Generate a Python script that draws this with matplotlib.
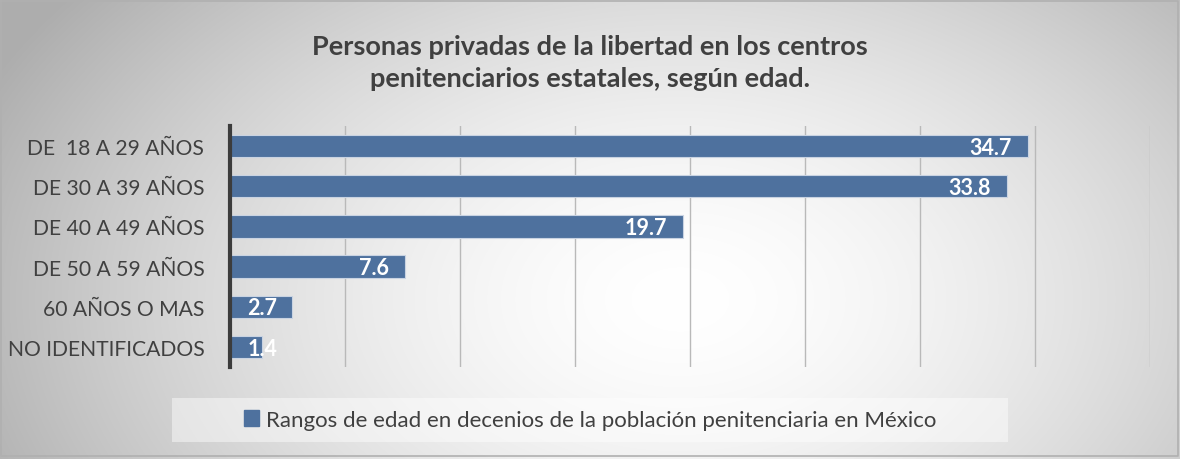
import matplotlib.pyplot as plt
import numpy as np

categories = ["DE  18 A 29 AÑOS", "DE 30 A 39 AÑOS", "DE 40 A 49 AÑOS",
              "DE 50 A 59 AÑOS", "60 AÑOS O MAS", "NO IDENTIFICADOS"]
values = [34.7, 33.8, 19.7, 7.6, 2.7, 1.4]
series_name = "Rangos de edad en decenios de la población penitenciaria en México"
title = "Personas privadas de la libertad en los centros\npenitenciarios estatales, según edad."

plt.rcParams['font.family'] = ['Lato', 'DejaVu Sans']
bar_color = "#4e719e"
text_color = "#404040"

W, H = 1180, 460
fig = plt.figure(figsize=(W / 100, H / 100), dpi=100)

# radial grey-to-white background
bg = fig.add_axes([0, 0, 1, 1], zorder=-10)
yy, xx = np.mgrid[0:H, 0:W]
r = np.sqrt(((xx - 680) / 640.0) ** 2 + ((yy - 300) / 420.0) ** 2)
shade = 1.0 - 0.24 * np.clip(r, 0, 1.2) ** 1.6
bg.imshow(np.dstack([shade] * 3), extent=[0, W, H, 0], aspect='auto')
bg.plot([1, W - 2, W - 2, 1, 1], [2, 2, H - 3, H - 3, 2], color="#b0b0b0", lw=1.2)
# legend backdrop
bg.add_patch(plt.Rectangle((172, 399), 836, 44, facecolor="white", alpha=0.45, edgecolor="none"))
bg.set_xlim(0, W)
bg.set_ylim(H, 0)
bg.axis('off')

ax = fig.add_axes([230 / W, 1 - 368 / H, 920 / W, 241 / H])
ax.patch.set_alpha(0)
y = np.arange(len(categories))
ax.barh(y, values, height=0.56, color=bar_color, edgecolor="#c9d3e2", linewidth=0.8, zorder=3)
ax.set_xlim(0, 40)
ax.set_ylim(len(categories) - 0.5, -0.5)
ax.set_xticks(np.arange(5, 45, 5))
ax.tick_params(axis='x', bottom=False, labelbottom=False)
ax.tick_params(axis='y', left=False, pad=15, labelsize=15.2, labelcolor=text_color)
ax.set_yticks(y)
ax.set_yticklabels(categories)
ax.grid(axis='x', color="#b9b9b9", lw=1, zorder=0)
for s in ['top', 'right', 'bottom']:
    ax.spines[s].set_visible(False)
ax.spines['left'].set_color("#3c3c3c")
ax.spines['left'].set_linewidth(3)
ax.spines['left'].set_zorder(4)

for yi, v in zip(y, values):
    if v < 3:
        ax.text(0.75, yi + 0.03, f"{v}", ha='left', va='center', color='white',
                fontsize=15.5, fontweight='bold', zorder=5)
    else:
        ax.text(v - 0.7, yi + 0.03, f"{v}", ha='right', va='center', color='white',
                fontsize=15.5, fontweight='bold', zorder=5)

fig.text(590 / W, 1 - 63 / H, title, ha='center', va='center', fontsize=19.5,
         fontweight='bold', color=text_color, linespacing=1.4)

leg = fig.legend([plt.Rectangle((0, 0), 1, 1, color=bar_color)], [series_name],
                 loc='center', bbox_to_anchor=(590 / W, 1 - 421 / H), fontsize=16,
                 frameon=False, handlelength=0.7, handleheight=0.7, handletextpad=0.3,
                 labelcolor=text_color)

fig.savefig("out.png", dpi=100)
